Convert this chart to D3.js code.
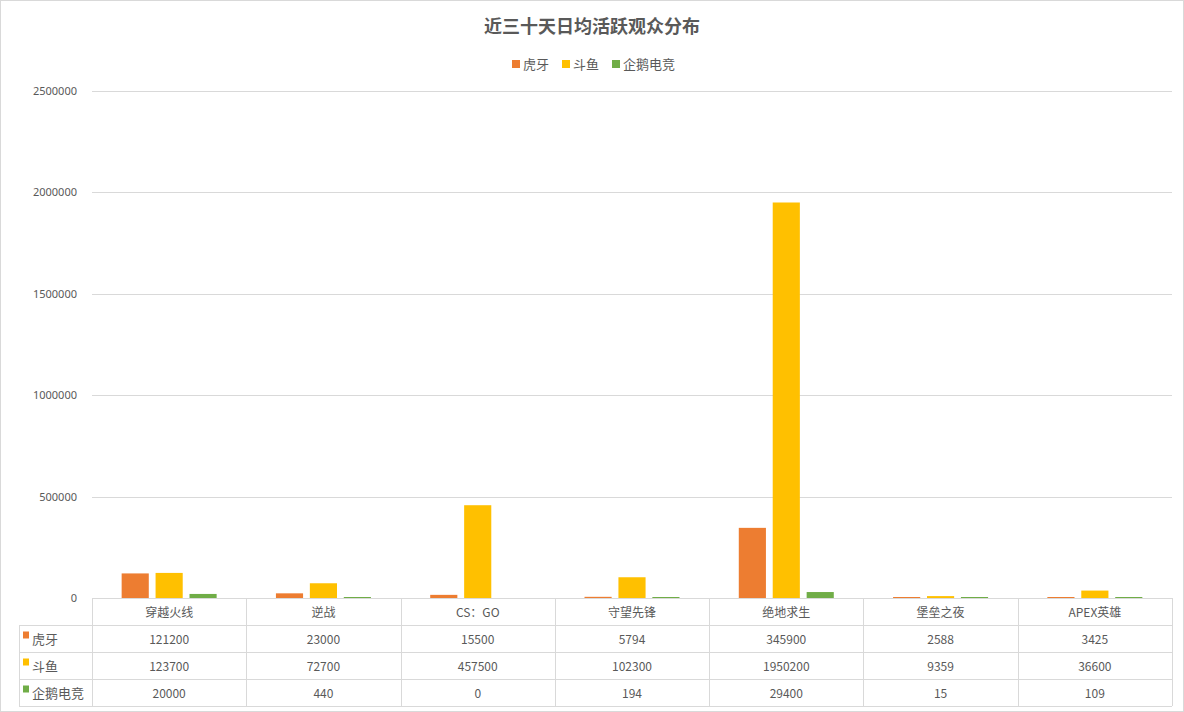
<!DOCTYPE html>
<html>
<head>
<meta charset="utf-8">
<script src="https://cdn.jsdelivr.net/npm/d3@7"></script>
<style>
  html, body { margin: 0; padding: 0; background: #fff; }
  svg { display: block; font-family: "Noto Sans CJK SC", "Noto Sans", sans-serif; }
</style>
</head>
<body>
<svg id="chart" width="1184" height="712"></svg>
<script>
var categories = ['穿越火线', '逆战', 'CS：GO', '守望先锋', '绝地求生', '堡垒之夜', 'APEX英雄'];
var seriesNames = ['虎牙', '斗鱼', '企鹅电竞'];
var huya = [121200, 23000, 15500, 5794, 345900, 2588, 3425];
var douyu = [123700, 72700, 457500, 102300, 1950200, 9359, 36600];
var penguin = [20000, 440, 0, 194, 29400, 15, 109];
var yTicks = [0, 500000, 1000000, 1500000, 2000000, 2500000];
var colors = ['#ED7D31', '#FFC000', '#70AD47'];

(function() {
    'use strict';

    var values = [huya, douyu, penguin];
    var svg = d3.select('#chart');

    var plot = {left: 92, right: 1172, top: 91, bottom: 598};
    var rowH = 27;
    var tableLeft = 19;

    // chart frame
    svg.append('rect')
        .attr('x', 0.5).attr('y', 0.5)
        .attr('width', 1183).attr('height', 711)
        .attr('fill', 'none').attr('stroke', '#d9d9d9');

    // title
    svg.append('text')
        .attr('x', 592).attr('y', 33)
        .attr('text-anchor', 'middle')
        .attr('font-size', 18).attr('font-weight', 'bold')
        .attr('fill', '#595959')
        .text('近三十天日均活跃观众分布');

    // legend
    var legendX = [512, 562, 612];
    var legend = svg.append('g').selectAll('g')
        .data(seriesNames)
        .enter().append('g')
        .attr('transform', function(d, i) {return 'translate(' + legendX[i] + ',64)';});
    legend.append('rect')
        .attr('x', 0).attr('y', -4)
        .attr('width', 8).attr('height', 8)
        .attr('fill', function(d, i) {return colors[i];});
    legend.append('text')
        .attr('x', 11).attr('y', 5)
        .attr('font-size', 13).attr('fill', '#595959')
        .text(function(d) {return d;});

    var x0 = d3.scaleBand()
        .domain(categories)
        .range([plot.left, plot.right]);
    var x1 = d3.scaleBand()
        .domain(seriesNames)
        .range([0, 95])
        .paddingInner(0.2);
    var y = d3.scaleLinear()
        .domain([0, 2500000])
        .range([plot.bottom, plot.top]);

    // grid
    svg.append('g').selectAll('line')
        .data(yTicks.slice(1))
        .enter().append('line')
        .attr('x1', plot.left).attr('x2', plot.right)
        .attr('y1', function(d) {return Math.round(y(d)) + 0.5;})
        .attr('y2', function(d) {return Math.round(y(d)) + 0.5;})
        .attr('stroke', '#d9d9d9');

    // y axis labels
    var axisY = svg.append('g')
        .attr('transform', 'translate(' + (plot.left - 12) + ',0)')
        .call(d3.axisLeft(y).tickValues(yTicks).tickSize(0).tickFormat(d3.format('d')));
    axisY.select('.domain').remove();
    axisY.selectAll('text')
        .attr('font-size', 11)
        .attr('fill', '#595959')
        .attr('font-family', '"Noto Sans", sans-serif');

    // bars
    var groups = svg.append('g').selectAll('g')
        .data(categories)
        .enter().append('g')
        .attr('transform', function(d) {
            return 'translate(' + (x0(d) + x0.bandwidth() / 2 - 47.5) + ',0)';
        });
    groups.selectAll('rect')
        .data(function(d, ci) {
            return seriesNames.map(function(s, si) {return {s: s, si: si, v: values[si][ci]};});
        })
        .enter().append('rect')
        .filter(function(d) {return d.v > 0;})
        .attr('x', function(d) {return x1(d.s);})
        .attr('width', x1.bandwidth())
        .attr('y', function(d) {return Math.min(y(d.v), plot.bottom - 1);})
        .attr('height', function(d) {return Math.max(plot.bottom - y(d.v), 1);})
        .attr('fill', function(d) {return colors[d.si];});

    // data table
    var table = svg.append('g').attr('stroke', '#d9d9d9').attr('fill', 'none');
    var tableBottom = plot.bottom + rowH * 4;
    table.append('line')
        .attr('x1', plot.left).attr('x2', plot.right)
        .attr('y1', plot.bottom + 0.5).attr('y2', plot.bottom + 0.5);
    [1, 2, 3, 4].forEach(function(r) {
        var yy = plot.bottom + rowH * r + 0.5;
        table.append('line')
            .attr('x1', tableLeft).attr('x2', plot.right)
            .attr('y1', yy).attr('y2', yy);
    });
    table.append('line')
        .attr('x1', tableLeft + 0.5).attr('x2', tableLeft + 0.5)
        .attr('y1', plot.bottom + rowH).attr('y2', tableBottom);
    var colEdges = categories.map(function(c) {return x0(c);}).concat([plot.right]);
    colEdges.forEach(function(xx) {
        table.append('line')
            .attr('x1', Math.round(xx) + 0.5).attr('x2', Math.round(xx) + 0.5)
            .attr('y1', plot.bottom).attr('y2', tableBottom);
    });

    var cellText = svg.append('g')
        .attr('font-size', 12).attr('fill', '#595959')
        .attr('text-anchor', 'middle');
    cellText.selectAll('text.cat')
        .data(categories)
        .enter().append('text')
        .attr('class', 'cat')
        .attr('x', function(d) {return x0(d) + x0.bandwidth() / 2;})
        .attr('y', plot.bottom + rowH / 2 + 5)
        .text(function(d) {return d;});
    values.forEach(function(vals, si) {
        var yy = plot.bottom + rowH * (si + 1) + rowH / 2 + 5;
        cellText.selectAll('text.s' + si)
            .data(vals)
            .enter().append('text')
            .attr('class', 's' + si)
            .attr('x', function(d, i) {return x0(categories[i]) + x0.bandwidth() / 2;})
            .attr('y', yy)
            .text(function(d) {return d;});
        svg.append('rect')
            .attr('x', tableLeft + 4).attr('y', yy - 12)
            .attr('width', 6).attr('height', 7)
            .attr('fill', colors[si]);
        svg.append('text')
            .attr('x', tableLeft + 13).attr('y', yy)
            .attr('font-size', 13).attr('fill', '#595959')
            .text(seriesNames[si]);
    });
})();
</script>
</body>
</html>
